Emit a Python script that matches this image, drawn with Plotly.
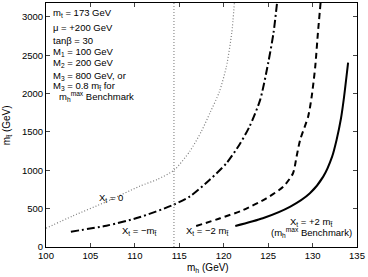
import plotly.graph_objects as go

# Data
xt0_mh = [100.0, 103.0, 106.8, 110.5, 112.5, 114.4, 116.2, 117.5, 118.5, 119.5, 120.3, 120.9, 121.2]
xt0_mst = [245, 404, 591, 790, 880, 1000, 1250, 1510, 1760, 2020, 2351, 2787, 3180]

xtm1_mh = [102.8, 106.8, 110.5, 114.3, 116.2, 118.4, 120.3, 121.8, 122.9, 124.1, 125.0, 125.6, 126.0]
xtm1_mst = [200, 278, 387, 548, 660, 874, 1091, 1340, 1569, 1917, 2395, 2787, 3180]

xtm2_mh = [116.9, 119.6, 122.2, 124.8, 126.7, 127.8, 128.2, 128.6, 129.5, 129.9, 130.3, 130.6, 130.9]
xtm2_mst = [274, 374, 482, 635, 786, 961, 1178, 1395, 1699, 1960, 2351, 2787, 3180]

xtp2_mh = [121.3, 124.4, 127.5, 129.7, 131.2, 132.2, 132.7, 133.2, 133.5, 134.0]
xtp2_mst = [274, 374, 526, 700, 917, 1178, 1395, 1678, 1917, 2404]

lep_limit = 114.4
x_ticks = [100, 105, 110, 115, 120, 125, 130, 135]
y_ticks = [0, 500, 1000, 1500, 2000, 2500, 3000]

FONT = "Liberation Sans, Arial, sans-serif"

fig = go.Figure()
fig.add_trace(go.Scatter(x=xt0_mh, y=xt0_mst, mode="lines",
                         line=dict(color="#7f7f7f", width=1.2, dash="1px,2px", shape="spline", smoothing=0.7)))
fig.add_trace(go.Scatter(x=xtm1_mh, y=xtm1_mst, mode="lines",
                         line=dict(color="black", width=2, dash="8px,3px,2px,3px", shape="spline", smoothing=0.7)))
fig.add_trace(go.Scatter(x=xtm2_mh, y=xtm2_mst, mode="lines",
                         line=dict(color="black", width=2, dash="6px,4px", shape="spline", smoothing=0.7)))
fig.add_trace(go.Scatter(x=xtp2_mh, y=xtp2_mst, mode="lines",
                         line=dict(color="black", width=2, shape="spline", smoothing=0.7)))
fig.add_trace(go.Scatter(x=[lep_limit, lep_limit], y=[0, 3180], mode="lines",
                         line=dict(color="#8c8c8c", width=1.2, dash="1px,2px")))

ann = []
def txt(x, y, s, xanchor="left", size=9.5, xref="x", yref="y", angle=0):
    ann.append(dict(x=x, y=y, text=s, showarrow=False, xanchor=xanchor, yanchor="middle",
                    xref=xref, yref=yref, textangle=angle,
                    font=dict(family=FONT, size=size, color="black")))

params = [
    (3051, "m<sub>t</sub> = 173 GeV"),
    (2856, "μ = +200 GeV"),
    (2686, "tanβ = 30"),
    (2543, "M<sub>1</sub> = 100 GeV"),
    (2400, "M<sub>2</sub> = 200 GeV"),
    (2235, "M<sub>3</sub> = 800 GeV, or"),
    (2100, "M<sub>3</sub> = 0.8 m<sub>t̃</sub> for"),
]
for yv, s in params:
    txt(100.6, yv, s)
txt(101.2, 1955, "m<sub>h</sub><sup>max</sup> Benchmark")

txt(107.3, 640, "X<sub>t</sub> = 0", xanchor="center")
txt(110.5, 205, "X<sub>t</sub> = −m<sub>t̃</sub>", xanchor="center")
txt(118.2, 205, "X<sub>t</sub> = −2 m<sub>t̃</sub>", xanchor="center")
txt(129.9, 330, "X<sub>t</sub> = +2 m<sub>t̃</sub>", xanchor="center")
txt(129.9, 195, "(m<sub>h</sub><sup>max</sup> Benchmark)", xanchor="center")

txt(0.52, -0.085, "m<sub>h</sub> (GeV)", xanchor="center", size=10, xref="paper", yref="paper")
txt(-0.125, 0.5, "m<sub>t̃</sub> (GeV)", xanchor="center", size=10, xref="paper", yref="paper", angle=-90)

fig.update_layout(
    template="none",
    width=368, height=277,
    margin=dict(l=46, r=11, t=3, b=30, pad=0),
    paper_bgcolor="white", plot_bgcolor="white",
    showlegend=False,
    annotations=ann,
    font=dict(family=FONT, size=9.5, color="black"),
    xaxis=dict(range=[100, 135], tickvals=x_ticks, ticks="inside", ticklen=4,
               showline=True, linecolor="black", linewidth=1, mirror="ticks",
               showgrid=False, zeroline=False, automargin=False, tickfont=dict(size=9.5)),
    yaxis=dict(range=[0, 3180], tickvals=y_ticks, ticks="inside", ticklen=4,
               showline=True, linecolor="black", linewidth=1, mirror="ticks",
               showgrid=False, zeroline=False, automargin=False, tickfont=dict(size=9.5)),
)

fig.write_html("out.html",
               config={"displayModeBar": False},
               post_script="document.body.style.margin='0';document.body.style.overflow='hidden';")
